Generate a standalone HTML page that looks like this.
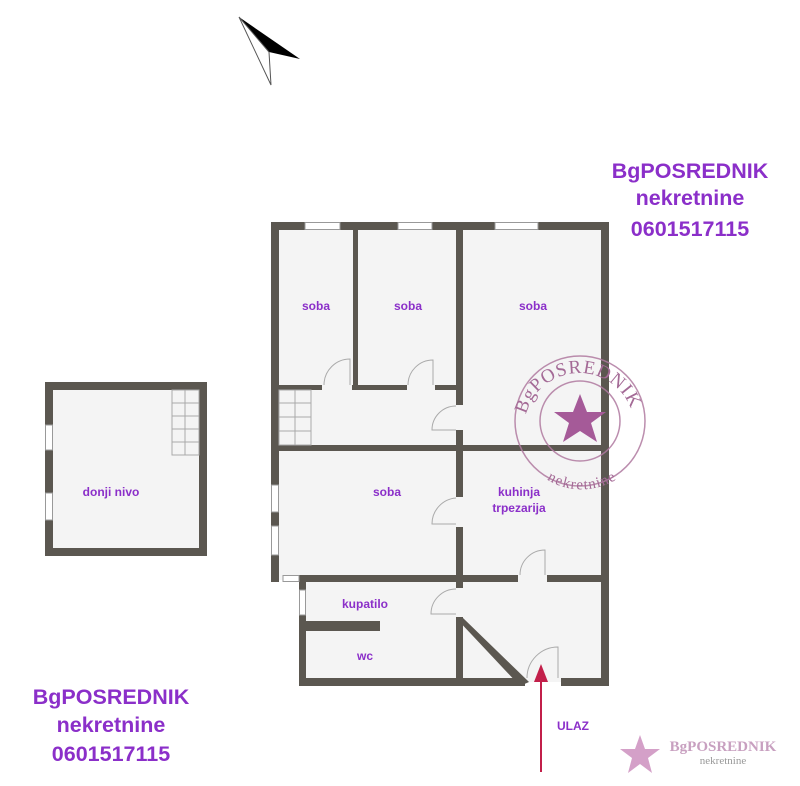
<!DOCTYPE html>
<html><head><meta charset="utf-8"><style>
html,body{margin:0;padding:0;background:#fff;width:800px;height:786px;overflow:hidden}
svg{display:block}
.t{font-family:"Liberation Sans",sans-serif;font-weight:bold;fill:#8b2fc9;font-size:12px;text-anchor:middle}
.b{font-family:"Liberation Sans",sans-serif;font-weight:bold;fill:#8b2fc9;font-size:21.5px;text-anchor:middle}
</style></head><body>
<svg width="800" height="786" viewBox="0 0 800 786" xmlns="http://www.w3.org/2000/svg">
<defs>
<path id="topArc" d="M527,445 A55,55 0 1 1 633,440"/>
<path id="botArc" d="M535,455 A56,56 0 0 0 628,455"/>
</defs>
<!-- north arrow -->
<polygon points="239,17 300,59 269,52" fill="#000"/>
<polygon points="239,17 269,52 271,85" fill="#fff" stroke="#555" stroke-width="1"/>
<!-- floors -->
<rect x="275" y="226" width="330" height="354" fill="#f4f4f4"/>
<rect x="302" y="578" width="303" height="104" fill="#f4f4f4"/>
<rect x="49" y="386" width="154" height="166" fill="#f4f4f4"/>
<g fill="#5b5750">
<rect x="271" y="222" width="338" height="8"/>
<rect x="271" y="222" width="8" height="360"/>
<rect x="601" y="222" width="8" height="464"/>
<rect x="299" y="678" width="226" height="8"/>
<rect x="561" y="678" width="48" height="8"/>
<rect x="353" y="230" width="5" height="160"/>
<rect x="456" y="230" width="7" height="175"/>
<rect x="456" y="430" width="7" height="256"/>
<rect x="279" y="385" width="43" height="5"/>
<rect x="352" y="385" width="55" height="5"/>
<rect x="435" y="385" width="25" height="5"/>
<rect x="279" y="445" width="322" height="6"/>
<rect x="299" y="575" width="219" height="7"/>
<rect x="547" y="575" width="54" height="7"/>
<rect x="299" y="575" width="7" height="15"/>
<rect x="299" y="615" width="7" height="71"/>
<rect x="306" y="621" width="74" height="10"/>
<rect x="271" y="512" width="8" height="14"/>
<rect x="45" y="382" width="162" height="8"/>
<rect x="45" y="548" width="162" height="8"/>
<rect x="199" y="382" width="8" height="174"/>
<rect x="45" y="382" width="8" height="43"/>
<rect x="45" y="450" width="8" height="43"/>
<rect x="45" y="520" width="8" height="36"/>
</g>
<g fill="#f4f4f4">
<rect x="456" y="497" width="7" height="30"/>
<rect x="456" y="588" width="7" height="29"/>
<rect x="271" y="485" width="8" height="27"/>
<rect x="271" y="526" width="8" height="29"/>
</g>
<polygon points="456,618 463,618 529,682 520,686" fill="#5b5750"/>
<g fill="#fff" stroke="#999" stroke-width="1">
<rect x="305" y="222.5" width="35" height="7"/>
<rect x="398" y="222.5" width="34" height="7"/>
<rect x="495" y="222.5" width="43" height="7"/>
<rect x="271.5" y="485" width="7" height="27"/>
<rect x="271.5" y="526" width="7" height="29"/>
<rect x="283" y="575.5" width="16" height="6"/>
<rect x="299.5" y="590" width="6" height="25"/>
<rect x="45.5" y="425" width="7" height="25"/>
<rect x="45.5" y="493" width="7" height="27"/>
</g>
<g fill="none" stroke="#aaa" stroke-width="1">
<rect x="279" y="390" width="32" height="55"/>
<line x1="295" y1="390" x2="295" y2="445"/>
<line x1="279" y1="403" x2="311" y2="403"/><line x1="279" y1="417" x2="311" y2="417"/><line x1="279" y1="431" x2="311" y2="431"/>
<rect x="172" y="390" width="27" height="65"/>
<line x1="185" y1="390" x2="185" y2="455"/>
<line x1="172" y1="403" x2="199" y2="403"/><line x1="172" y1="416" x2="199" y2="416"/><line x1="172" y1="429" x2="199" y2="429"/><line x1="172" y1="442" x2="199" y2="442"/>
<path d="M324,385 A26,26 0 0 1 350,359 L350,385"/>
<path d="M408,385 A25,25 0 0 1 433,360 L433,385"/>
<path d="M456,430 L432,430 A24,24 0 0 1 456,406"/>
<path d="M456,524 L432,524 A26,26 0 0 1 456,498"/>
<path d="M520,575 A25,25 0 0 1 545,550 L545,575"/>
<path d="M456,614 L431,614 A25,25 0 0 1 456,589"/>
<path d="M527,678 A31,31 0 0 1 558,647 L558,678"/>
</g>
<!-- stamp -->
<g fill="none" stroke="#b07aa0" stroke-width="1.5" opacity="0.85">
<circle cx="580" cy="421" r="65"/>
<circle cx="580" cy="421" r="40"/>
</g>
<polygon points="580,394 587,412 606,412 591,423 597,442 580,431 563,442 569,423 554,412 573,412" fill="#a55a98"/>
<text font-family="Liberation Serif,serif" font-size="19" fill="#a46a96" letter-spacing="1"><textPath href="#topArc" startOffset="50%" text-anchor="middle">BgPOSREDNIK</textPath></text>
<text font-family="Liberation Serif,serif" font-size="15" fill="#a46a96"><textPath href="#botArc" startOffset="50%" text-anchor="middle" dominant-baseline="hanging">nekretnine</textPath></text>
<text class="t" x="316" y="310">soba</text>
<text class="t" x="408" y="310">soba</text>
<text class="t" x="533" y="310">soba</text>
<text class="t" x="387" y="496">soba</text>
<text class="t" x="519" y="496">kuhinja</text>
<text class="t" x="519" y="512">trpezarija</text>
<text class="t" x="365" y="608">kupatilo</text>
<text class="t" x="365" y="660">wc</text>
<text class="t" x="111" y="496">donji nivo</text>
<text class="t" x="573" y="730">ULAZ</text>
<line x1="541" y1="772" x2="541" y2="680" stroke="#c21f4a" stroke-width="2"/>
<polygon points="534,682 548,682 541,664" fill="#c21f4a"/>
<text class="b" x="690" y="178">BgPOSREDNIK</text>
<text class="b" x="690" y="205">nekretnine</text>
<text class="b" x="690" y="236">0601517115</text>
<text class="b" x="111" y="704">BgPOSREDNIK</text>
<text class="b" x="111" y="732">nekretnine</text>
<text class="b" x="111" y="761">0601517115</text>
<polygon points="640,735 645,749 660,749 648,758 652,773 640,764 628,773 632,758 620,749 635,749" fill="#d4a0c8"/>
<text x="723" y="751" font-family="Liberation Serif,serif" font-weight="bold" font-size="15" fill="#c8a0c0" text-anchor="middle">BgPOSREDNIK</text>
<text x="723" y="764" font-family="Liberation Serif,serif" font-size="11" fill="#999" text-anchor="middle">nekretnine</text>
</svg>
</body></html>
